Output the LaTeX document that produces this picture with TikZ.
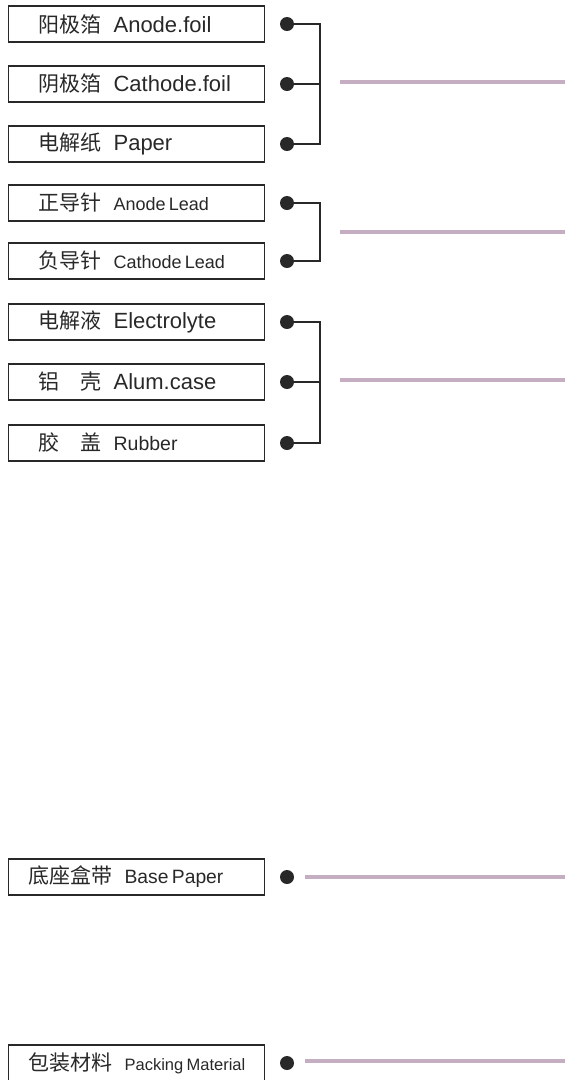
\documentclass[tikz,border=0pt]{standalone}
\usepackage{fontspec}
\setmainfont{Liberation Sans}
\newfontfamily\cjk{Noto Sans CJK SC}
\definecolor{rodpink}{RGB}{198,174,194}
\definecolor{ink}{RGB}{40,40,40}
\newcommand\cn[1]{{\cjk\fontsize{21}{24}\selectfont #1}}
\newcommand\en[2]{{\fontsize{#1}{24}\selectfont #2}}
\tikzset{
	partbox/.style={draw=ink, line width=1.2pt, minimum height=36pt, anchor=west, align=left, text=ink},
	pin/.style={circle, fill=ink, inner sep=0pt, minimum size=14pt},
	wire/.style={line width=1.8pt, ink},
	rod/.style={line width=4.5pt, rodpink}
}
\begin{document}
\begin{tikzpicture}[x=1pt, y=-1pt]
		\useasboundingbox (0,0) rectangle (565,1080);
		
		% parts and their pins
		\foreach \i/\y/\sep/\tw/\txt in {
			1/24/30/196/{\cn{阳极箔}\hspace{12pt}\en{22}{Anode.foil}},
			2/84/30/196/{\cn{阴极箔}\hspace{12pt}\en{22}{Cathode.foil}},
			3/144/30/196/{\cn{电解纸}\hspace{12pt}\en{22}{Paper}},
			4/203/30/196/{\cn{正导针}\hspace{12pt}\en{18}{Anode Lead}},
			5/261/30/196/{\cn{负导针}\hspace{12pt}\en{18}{Cathode Lead}},
			6/322/30/196/{\cn{电解液}\hspace{12pt}\en{22}{Electrolyte}},
			7/382/30/196/{\cn{铝　壳}\hspace{12pt}\en{22}{Alum.case}},
			8/443/30/196/{\cn{胶　盖}\hspace{12pt}\en{19.5}{Rubber}},
			9/877/20/216/{\cn{底座盒带}\hspace{12pt}\en{19.3}{Base Paper}},
			10/1063/20/216/{\cn{包装材料}\hspace{12pt}\en{16.5}{Packing Material}}}
		{
			\node[partbox, inner xsep=\sep pt, text width=\tw pt] (p\i) at (8,\y) {\mbox{\txt}};
			\node[pin] (d\i) at (287,\y) {};
		}
		
		% brackets
		\coordinate (j1) at (320,84);
		\coordinate (j2) at (320,232);
		\coordinate (j3) at (320,382);
		\draw[wire] (d1.center) -| (j1) |- (d3.center);
		\draw[wire] (d2.center) -- (j1);
		\draw[wire] (d4.center) -| (j2) |- (d5.center);
		\draw[wire] (d6.center) -| (j3) |- (d8.center);
		\draw[wire] (d7.center) -- (j3);
		
		% leader rods
		\foreach \x/\y in {340/82, 340/232, 340/380, 305/877, 305/1061}
		\draw[rod] (\x,\y) -- (565,\y);
\end{tikzpicture}
\end{document}
